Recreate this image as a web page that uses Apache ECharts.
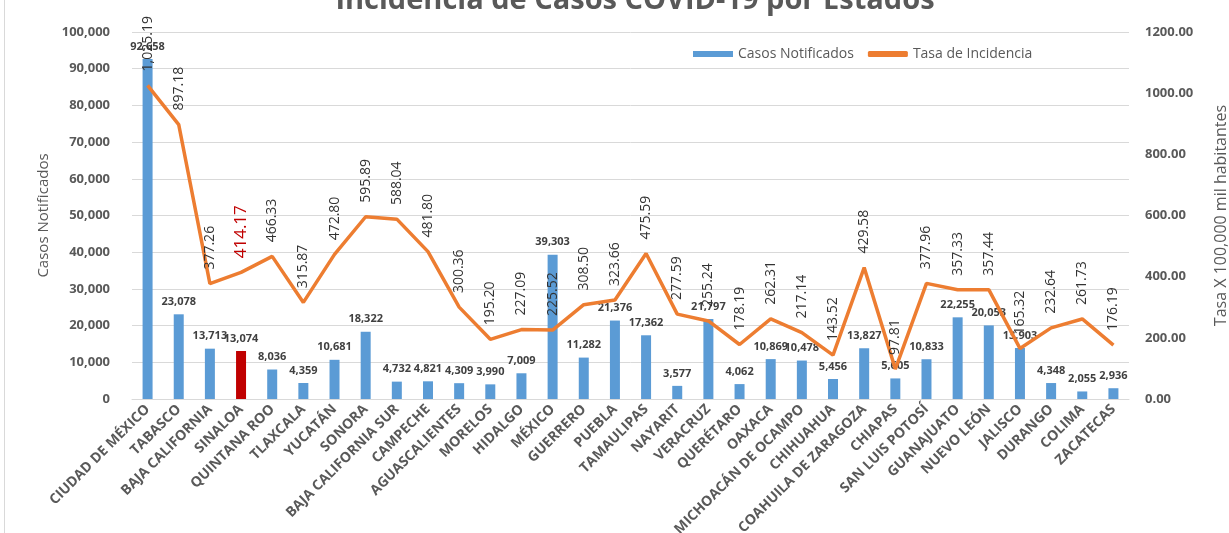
<!DOCTYPE html>
<html>
<head>
<meta charset="utf-8">
<script src="https://cdn.jsdelivr.net/npm/echarts@6/dist/echarts.min.js"></script>
<style>
  html, body { margin: 0; padding: 0; background: #fff; }
  #chart { width: 1229px; height: 533px; }
  #frame { position: absolute; left: 4px; top: 0; width: 1px; height: 533px; background: #d9d9d9; }
</style>
</head>
<body>
<div id="chart"></div>
<div id="frame"></div>
<script>
const estados = [
  'CIUDAD DE MÉXICO', 'TABASCO', 'BAJA CALIFORNIA', 'SINALOA', 'QUINTANA ROO',
  'TLAXCALA', 'YUCATÁN', 'SONORA', 'BAJA CALIFORNIA SUR', 'CAMPECHE',
  'AGUASCALIENTES', 'MORELOS', 'HIDALGO', 'MÉXICO', 'GUERRERO', 'PUEBLA',
  'TAMAULIPAS', 'NAYARIT', 'VERACRUZ', 'QUERÉTARO', 'OAXACA',
  'MICHOACÁN DE OCAMPO', 'CHIHUAHUA', 'COAHUILA DE ZARAGOZA', 'CHIAPAS',
  'SAN LUIS POTOSÍ', 'GUANAJUATO', 'NUEVO LEÓN', 'JALISCO', 'DURANGO',
  'COLIMA', 'ZACATECAS'
]

const casos = [
  92658, 23078, 13713, 13074, 8036, 4359, 10681, 18322, 4732, 4821,
  4309, 3990, 7009, 39303, 11282, 21376, 17362, 3577, 21797, 4062,
  10869, 10478, 5456, 13827, 5605, 10833, 22255, 20053, 13903, 4348,
  2055, 2936
]

const tasa = [
  1025.19, 897.18, 377.26, 414.17, 466.33, 315.87, 472.80, 595.89, 588.04, 481.80,
  300.36, 195.20, 227.09, 225.52, 308.50, 323.66, 475.59, 277.59, 255.24, 178.19,
  262.31, 217.14, 143.52, 429.58, 97.81, 377.96, 357.33, 357.44, 165.32, 232.64,
  261.73, 176.19
]

const destacado = 'SINALOA'

const FONT = '"Open Sans", "DejaVu Sans", sans-serif'
const GRIS = '#595959'

function fmtNum(v, dec) {
  return v.toLocaleString('en-US', { minimumFractionDigits: dec, maximumFractionDigits: dec })
}

const chart = echarts.init(document.getElementById('chart'))

chart.setOption({
  animation: false,
  textStyle: { fontFamily: FONT },
  title: {
    text: 'Incidencia de Casos COVID-19 por Estados',
    left: 630,
    textAlign: 'center',
    top: -19,
    textStyle: { fontSize: 29, fontWeight: 'bold', color: GRIS, fontFamily: FONT }
  },
  legend: {
    top: 42,
    left: 688,
    itemGap: 14,
    itemWidth: 40,
    itemHeight: 6,
    textStyle: { color: GRIS, fontSize: 14, fontFamily: FONT },
    data: [
      { name: 'Casos Notificados', icon: 'rect' },
      { name: 'Tasa de Incidencia', icon: 'roundRect' }
    ]
  },
  grid: { left: 132, right: 100, top: 32, bottom: 134, outerBoundsMode: 'none', containLabel: false },
  xAxis: {
    type: 'category',
    data: estados,
    axisTick: { show: false },
    axisLine: { lineStyle: { color: '#d9d9d9', width: 1 } },
    axisLabel: {
      interval: 0,
      rotate: 45,
      margin: 8,
      color: GRIS,
      fontSize: 14,
      fontWeight: 'bold',
      fontFamily: FONT
    }
  },
  yAxis: [
    {
      type: 'value',
      min: 0,
      max: 100000,
      interval: 10000,
      name: 'Casos Notificados',
      nameLocation: 'middle',
      nameGap: 80,
      nameTextStyle: { color: GRIS, fontSize: 15, fontFamily: FONT },
      axisLabel: {
        color: GRIS,
        fontSize: 13,
        fontWeight: 'bold',
        margin: 22,
        formatter: v => fmtNum(v, 0)
      },
      splitLine: { lineStyle: { color: '#d9d9d9', width: 1 } }
    },
    {
      type: 'value',
      min: 0,
      max: 1200,
      interval: 200,
      name: 'Tasa X 100,000 mil habitantes',
      nameLocation: 'middle',
      nameGap: 84,
      nameTextStyle: { color: GRIS, fontSize: 16, fontFamily: FONT },
      axisLabel: {
        color: GRIS,
        fontSize: 13,
        fontWeight: 'bold',
        margin: 16,
        formatter: v => v.toFixed(2)
      },
      splitLine: { show: false }
    }
  ],
  series: [
    {
      name: 'Casos Notificados',
      type: 'bar',
      yAxisIndex: 0,
      barWidth: 10,
      itemStyle: { color: '#5B9BD5' },
      data: casos.map((v, i) => ({
        value: v,
        itemStyle: estados[i] === destacado ? { color: '#C00000' } : undefined
      })),
      label: {
        show: true,
        position: 'top',
        distance: 7,
        color: '#404040',
        fontSize: 11,
        fontWeight: 'bold',
        fontFamily: FONT,
        formatter: p => fmtNum(p.value, 0)
      },
      z: 2
    },
    {
      name: 'Tasa de Incidencia',
      type: 'line',
      yAxisIndex: 1,
      symbol: 'circle',
      symbolSize: 0.1,
      showSymbol: true,
      lineStyle: { color: '#ED7D31', width: 3.5 },
      itemStyle: { color: '#ED7D31' },
      data: tasa.map((v, i) => ({
        value: v,
        label: estados[i] === destacado
          ? { color: '#C00000', fontSize: 17 }
          : undefined
      })),
      label: {
        show: true,
        position: 'top',
        rotate: 90,
        align: 'left',
        verticalAlign: 'middle',
        distance: 14,
        color: '#333333',
        fontSize: 14,
        fontFamily: FONT,
        formatter: p => fmtNum(p.value, 2)
      },
      labelLayout: { hideOverlap: false },
      z: 3
    }
  ]
})
</script>
</body>
</html>
